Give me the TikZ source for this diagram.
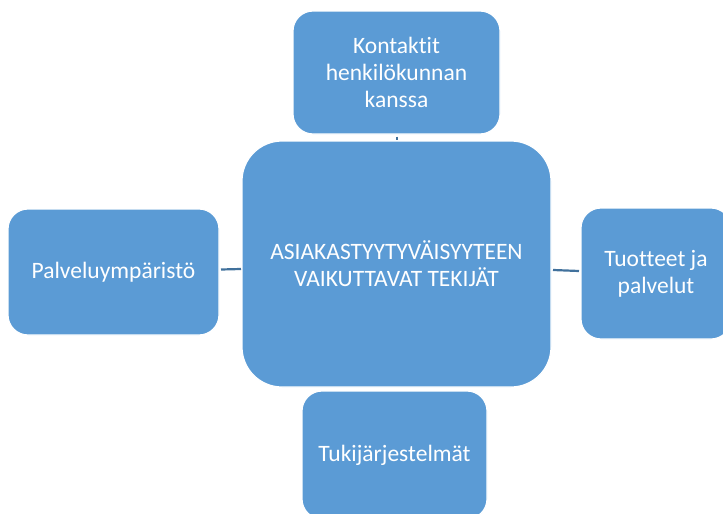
\documentclass[tikz,border=0pt]{standalone}
\usepackage{fontspec}
\setmainfont{Carlito}[RawFeature={-liga}]
\definecolor{boxfill}{HTML}{5B9BD5}
\definecolor{boxedge}{HTML}{FFFFFF}
\definecolor{linkcol}{HTML}{41719C}
\begin{document}
\begin{tikzpicture}[x=1pt,y=-1pt,
  box/.style={draw=boxedge, line width=1.2pt, fill=boxfill, text=white, align=center,
    font=\fontsize{23.5}{26.8}\selectfont, inner sep=0pt},
  link/.style={draw=linkcol, line width=2.2pt}]
\useasboundingbox (0,0) rectangle (723,514);
\begin{scope}
\clip (0,0) rectangle (723,514);
% boxes
\node[box, rounded corners=20pt, minimum width=207pt, minimum height=123pt] (top) at (396.5,72.5) {Kontaktit\\henkilökunnan\\kanssa};
\node[box, rounded corners=40pt, minimum width=309pt, minimum height=246pt] (mid) at (396.5,264) {ASIAKASTYYTYVÄISYYTEEN\\VAIKUTTAVAT TEKIJÄT};
\node[box, rounded corners=20pt, minimum width=211pt, minimum height=126pt] (left) at (113.5,272) {Palveluympäristö};
\node[box, rounded corners=20pt, minimum width=150pt, minimum height=131pt] (right) at (656,273.5) {Tuotteet ja\\palvelut};
\node[box, rounded corners=20pt, minimum width=185pt, minimum height=128pt] (bot) at (394.5,455) {Tukijärjestelmät};
% connectors
\coordinate (lA) at (221,269.5);
\coordinate (lB) at (241,269);
\draw[link] (lA) -- (lB);
\coordinate (rA) at (553,270);
\coordinate (rB) at (579,271);
\draw[link] (rA) -- (rB);
\coordinate (tA) at (397,136.5);
\coordinate (tB) at (397,139.5);
\draw[link, line width=2pt] (tA) -- (tB);
\end{scope}
\end{tikzpicture}
\end{document}
